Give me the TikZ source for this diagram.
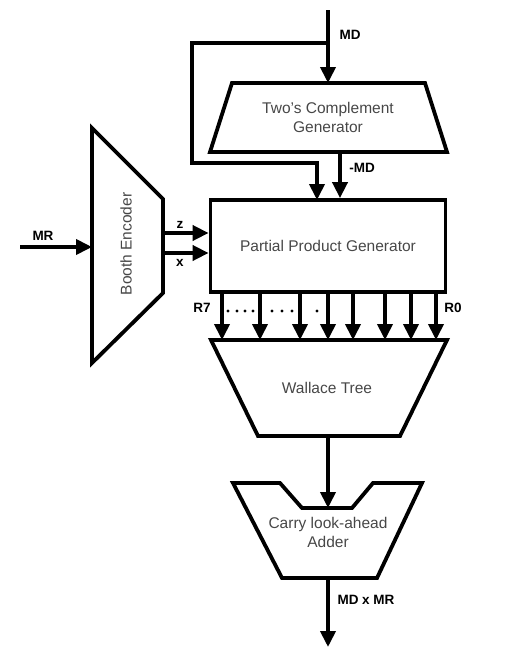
\documentclass[tikz,border=0pt]{standalone}
\usepackage{fontspec}
\setmainfont{Liberation Sans}
\usetikzlibrary{arrows.meta}
\tikzset{
  blk/.style={line width=3.8pt, line join=miter},
  wire/.style={line width=3.8pt, -{Triangle[length=16pt,width=15pt]}},
  lbl/.style={font=\fontsize{15.5}{19}\selectfont, text=black!72, align=center},
  sig/.style={font=\fontsize{13.5}{16}\selectfont\bfseries},
}
\begin{document}
\begin{tikzpicture}[x=1pt,y=-1pt]
  \useasboundingbox (0,0) rectangle (515,653);
  % blocks
  \draw[blk] (232,83) -- (425,83) -- (447,152) -- (210,152) -- cycle;
  \node (tc) [lbl] at (328,117) {Two's Complement\\Generator};
  \draw[blk] (92,128) -- (163,199) -- (163,293) -- (92,363) -- cycle;
  \node (be) [lbl,rotate=90] at (126,244) {Booth Encoder};
  \node (ppg) [lbl,draw=black,blk,minimum width=235pt,minimum height=92pt] at (328,246) {Partial Product Generator};
  \draw[blk] (211,340) -- (447,340) -- (400,436) -- (258,436) -- cycle;
  \node (wt) [lbl] at (327,388) {Wallace Tree};
  \draw[blk] (233,483) -- (280,483) -- (302,508) -- (352,508) -- (373,483) -- (422,483) -- (377,578) -- (282,578) -- cycle;
  \node (cla) [lbl] at (328,532) {Carry look-ahead\\Adder};
  % ports
  \coordinate (md) at (328,10);
  \coordinate (mdj) at (328,43);
  \coordinate (tcin) at (328,83);
  \coordinate (tcout) at (340,152);
  \coordinate (byp) at (192,163);
  \coordinate (mdin) at (317,200);
  \coordinate (mr) at (20,247);
  \coordinate (bein) at (92,247);
  \coordinate (zout) at (163,233);
  \coordinate (xout) at (163,253);
  \coordinate (wtout) at (328,436);
  \coordinate (clain) at (328,508);
  \coordinate (claout) at (328,578);
  \coordinate (prod) at (328,647);
  % connectors
  \draw[wire] (md) -- (tcin);
  \draw[wire] (mdj) -| (byp) -| (mdin);
  \draw[wire] (tcout) -- (tcout |- ppg.north);
  \draw[wire] (mr) -- (bein);
  \draw[wire] (zout) -- (zout -| ppg.west);
  \draw[wire] (xout) -- (xout -| ppg.west);
  \foreach \x [count=\i] in {222,260,300,328,353,385,411,436} {
    \coordinate (r\i) at (\x,340);
    \draw[wire] (r\i |- ppg.south) -- (r\i);
  }
  \draw[wire] (wtout) -- (clain);
  \draw[wire] (claout) -- (prod);
  \foreach \x in {228,237,245,253,272,282,292,317}
    \fill (\x,311) circle (1.7pt);
  % labels
  \node (lmd) [sig] at (350,35) {MD};
  \node (lnmd) [sig] at (362,168) {-MD};
  \node (lmr) [sig] at (43,236) {MR};
  \node (lz) [sig] at (180,225) {z};
  \node (lx) [sig] at (180,263) {x};
  \node (lr7) [sig] at (202,308) {R7};
  \node (lr0) [sig] at (453,308) {R0};
  \node (lprod) [sig] at (366,600) {MD x MR};
\end{tikzpicture}
\end{document}
